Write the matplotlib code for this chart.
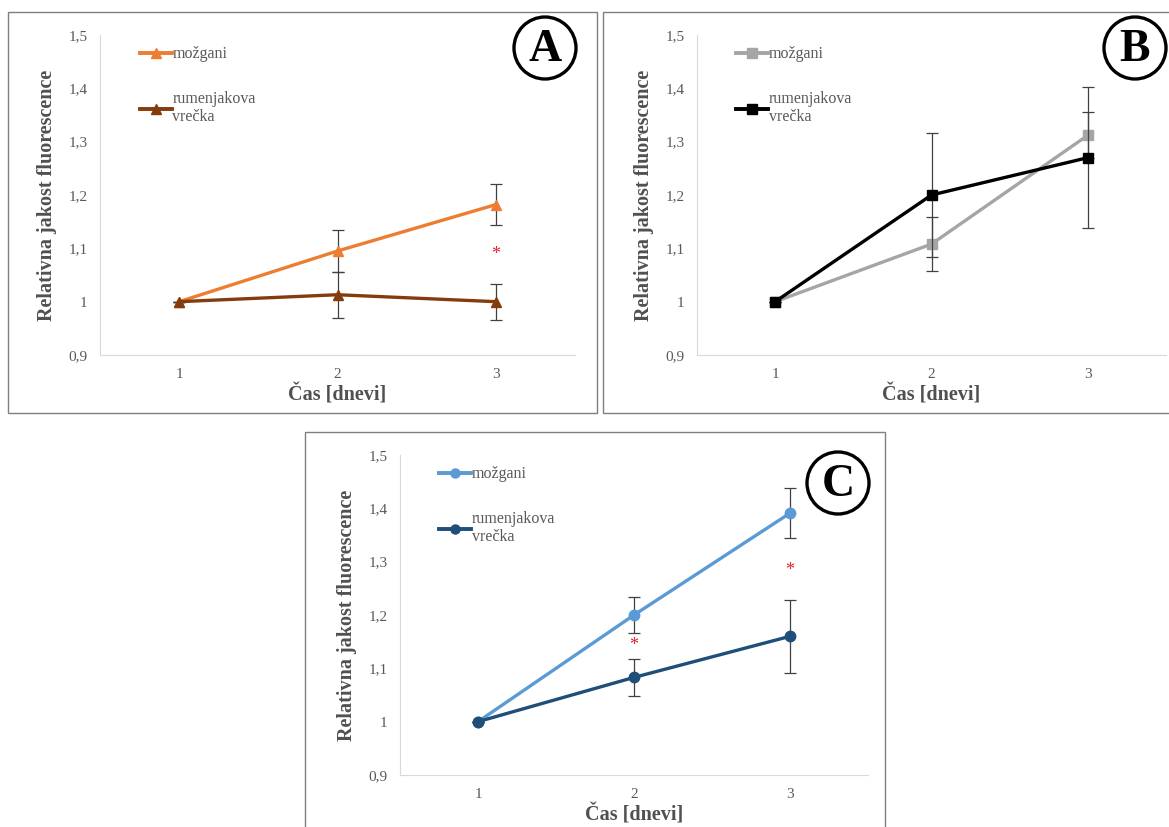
import matplotlib.pyplot as plt
from matplotlib.patches import Rectangle, Ellipse
from matplotlib.lines import Line2D

plt.rcParams['font.family'] = ['Liberation Serif', 'DejaVu Serif']

W, H = 1169, 827

days = [1, 2, 3]
labels = ['možgani', 'rumenjakova\nvrečka']

# panel A
a_mozgani = [1.0, 1.095, 1.182]
a_mozgani_err = [0.0, 0.040, 0.038]
a_rumen = [1.0, 1.013, 1.0]
a_rumen_err = [0.0, 0.043, 0.034]
a_star = [(3, 1.088)]

# panel B
b_mozgani = [1.0, 1.108, 1.312]
b_mozgani_err = [0.0, 0.050, 0.043]
b_rumen = [1.0, 1.200, 1.270]
b_rumen_err = [0.0, 0.116, 0.132]
b_star = []

# panel C
c_mozgani = [1.0, 1.200, 1.391]
c_mozgani_err = [0.0, 0.034, 0.047]
c_rumen = [1.0, 1.083, 1.160]
c_rumen_err = [0.0, 0.034, 0.068]
c_star = [(2, 1.143), (3, 1.283)]

yticks = [0.9, 1.0, 1.1, 1.2, 1.3, 1.4, 1.5]
yticklabels = ['0,9', '1', '1,1', '1,2', '1,3', '1,4', '1,5']


def fig_rect(l, t, r, b):
    return [l / W, 1 - b / H, (r - l) / W, (b - t) / H]


fig = plt.figure(figsize=(W / 100, H / 100), dpi=100)


def panel(ax_px, frame_px, circle_px, letter, s1, e1, s2, e2, stars, c1, c2, marker, ms):
    # outer frame
    l, t, r, b = frame_px
    fig.patches.append(Rectangle((l / W, 1 - b / H), (r - l) / W, (b - t) / H,
                                 transform=fig.transFigure, fill=False,
                                 edgecolor='#7f7f7f', lw=1.0, zorder=0))
    ax = fig.add_axes(fig_rect(*ax_px))
    ax.errorbar(days, s1, yerr=e1, color=c1, lw=2.4, marker=marker, ms=ms,
                ecolor='#404040', elinewidth=0.9, capsize=4, capthick=0.9,
                label=labels[0], zorder=3)
    ax.errorbar(days, s2, yerr=e2, color=c2, lw=2.4, marker=marker, ms=ms,
                ecolor='#404040', elinewidth=0.9, capsize=4, capthick=0.9,
                label=labels[1], zorder=4)
    for x, y in stars:
        ax.text(x, y, '*', color='#e0202a', ha='center', va='center', fontsize=13)
    ax.set_xlim(0.5, 3.5)
    ax.set_ylim(0.9, 1.5)
    ax.set_xticks(days)
    ax.set_xticklabels([str(d) for d in days])
    ax.set_yticks(yticks)
    ax.set_yticklabels(yticklabels)
    ax.tick_params(length=0, labelsize=11, labelcolor='#595959', pad=9)
    for s in ['top', 'right']:
        ax.spines[s].set_visible(False)
    for s in ['left', 'bottom']:
        ax.spines[s].set_color('#d9d9d9')
    ax.set_xlabel('Čas [dnevi]', fontsize=14.5, fontweight='bold', color='#505050', labelpad=3)
    ax.set_ylabel('Relativna jakost fluorescence', fontsize=14.5, fontweight='bold',
                  color='#505050', labelpad=8)
    h1 = Line2D([], [], color=c1, lw=2.8, marker=marker, ms=ms - 1)
    h2 = Line2D([], [], color=c2, lw=2.8, marker=marker, ms=ms - 1)
    ax.legend([h1, h2], labels, loc='upper left', bbox_to_anchor=(0.07, 0.985),
              frameon=False, fontsize=11.5, labelcolor='#595959', handlelength=2.0,
              handletextpad=0.05, labelspacing=1.8, borderaxespad=0)
    cx, cy, rr = circle_px
    fig.patches.append(Ellipse((cx / W, 1 - cy / H), 2 * rr / W, 2 * rr / H,
                               transform=fig.transFigure, fill=False,
                               edgecolor='black', lw=2.4))
    fig.text(cx / W, 1 - (cy + 2) / H, letter, ha='center', va='center', fontsize=33,
             fontweight='bold')
    return ax


panel((100, 35, 575, 355), (8, 12, 597, 413), (545, 48, 31), 'A',
      a_mozgani, a_mozgani_err, a_rumen, a_rumen_err, a_star,
      '#ed7d31', '#843c0c', '^', 7.5)
panel((697, 35, 1166, 355), (603, 12, 1190, 413), (1135, 48, 31), 'B',
      b_mozgani, b_mozgani_err, b_rumen, b_rumen_err, b_star,
      '#a5a5a5', '#000000', 's', 7.5)
panel((400, 455, 868, 775), (305, 432, 885, 840), (838, 483, 31), 'C',
      c_mozgani, c_mozgani_err, c_rumen, c_rumen_err, c_star,
      '#5b9bd5', '#1f4e79', 'o', 7.5)

fig.savefig('out.png', dpi=100)
